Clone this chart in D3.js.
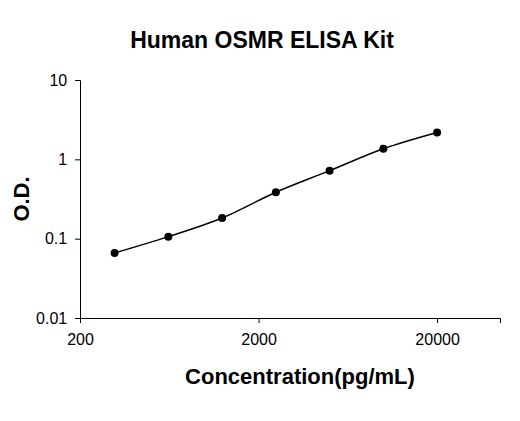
<!DOCTYPE html>
<html><head><meta charset="utf-8">
<script src="https://cdn.jsdelivr.net/npm/d3@7"></script>
<style>body{margin:0;background:#fff}</style>
</head><body><div id="app"></div>
<script>
const conc = [312.5, 625, 1250, 2500, 5000, 10000, 20000];
const od = [0.066, 0.106, 0.182, 0.385, 0.72, 1.36, 2.18];
const xTicks = [200, 2000, 20000];
const yTicks = [0.01, 0.1, 1, 10];

const width = 520, height = 421;
const svg = d3.select('#app').append('svg').attr('width', width).attr('height', height)
  .style('font-family', 'Arial, "Liberation Sans", sans-serif');

const x = d3.scaleLog().domain([200, 45000]).range([80, 500]);
const y = d3.scaleLog().domain([0.01, 10]).range([318, 80]);

svg.append('g').attr('transform', 'translate(0,318)')
  .call(d3.axisBottom(x).tickValues(xTicks).tickFormat(d3.format('d')).tickSizeOuter(0).tickSize(5))
  .call(g => g.selectAll('text').attr('font-size', 16).attr('dy', '1.2em'));
svg.append('g').attr('transform', 'translate(80,0)')
  .call(d3.axisLeft(y).tickValues(yTicks).tickFormat(d => String(d)).tickSizeOuter(0).tickSize(5))
  .call(g => g.selectAll('text').attr('font-size', 16).attr('dx', '-0.3em'));
svg.selectAll('.domain, .tick line').attr('stroke', '#000');

const pts = conc.map((c, i) => [x(c), y(od[i])]);
svg.append('path').attr('d', d3.line().curve(d3.curveCatmullRom)(pts))
  .attr('fill', 'none').attr('stroke', '#000').attr('stroke-width', 1.5);
svg.selectAll('circle').data(pts).join('circle')
  .attr('cx', d => d[0]).attr('cy', d => d[1]).attr('r', 4).attr('fill', '#000');

svg.append('text').attr('x', 262).attr('y', 48).attr('text-anchor', 'middle')
  .attr('font-size', 23).attr('font-weight', 'bold').text('Human OSMR ELISA Kit');
svg.append('text').attr('x', 300).attr('y', 384).attr('text-anchor', 'middle')
  .attr('font-size', 22).attr('font-weight', 'bold').text('Concentration(pg/mL)');
svg.append('text').attr('transform', 'translate(29,199) rotate(-90)').attr('text-anchor', 'middle')
  .attr('font-size', 22).attr('font-weight', 'bold').text('O.D.');
</script></body></html>
